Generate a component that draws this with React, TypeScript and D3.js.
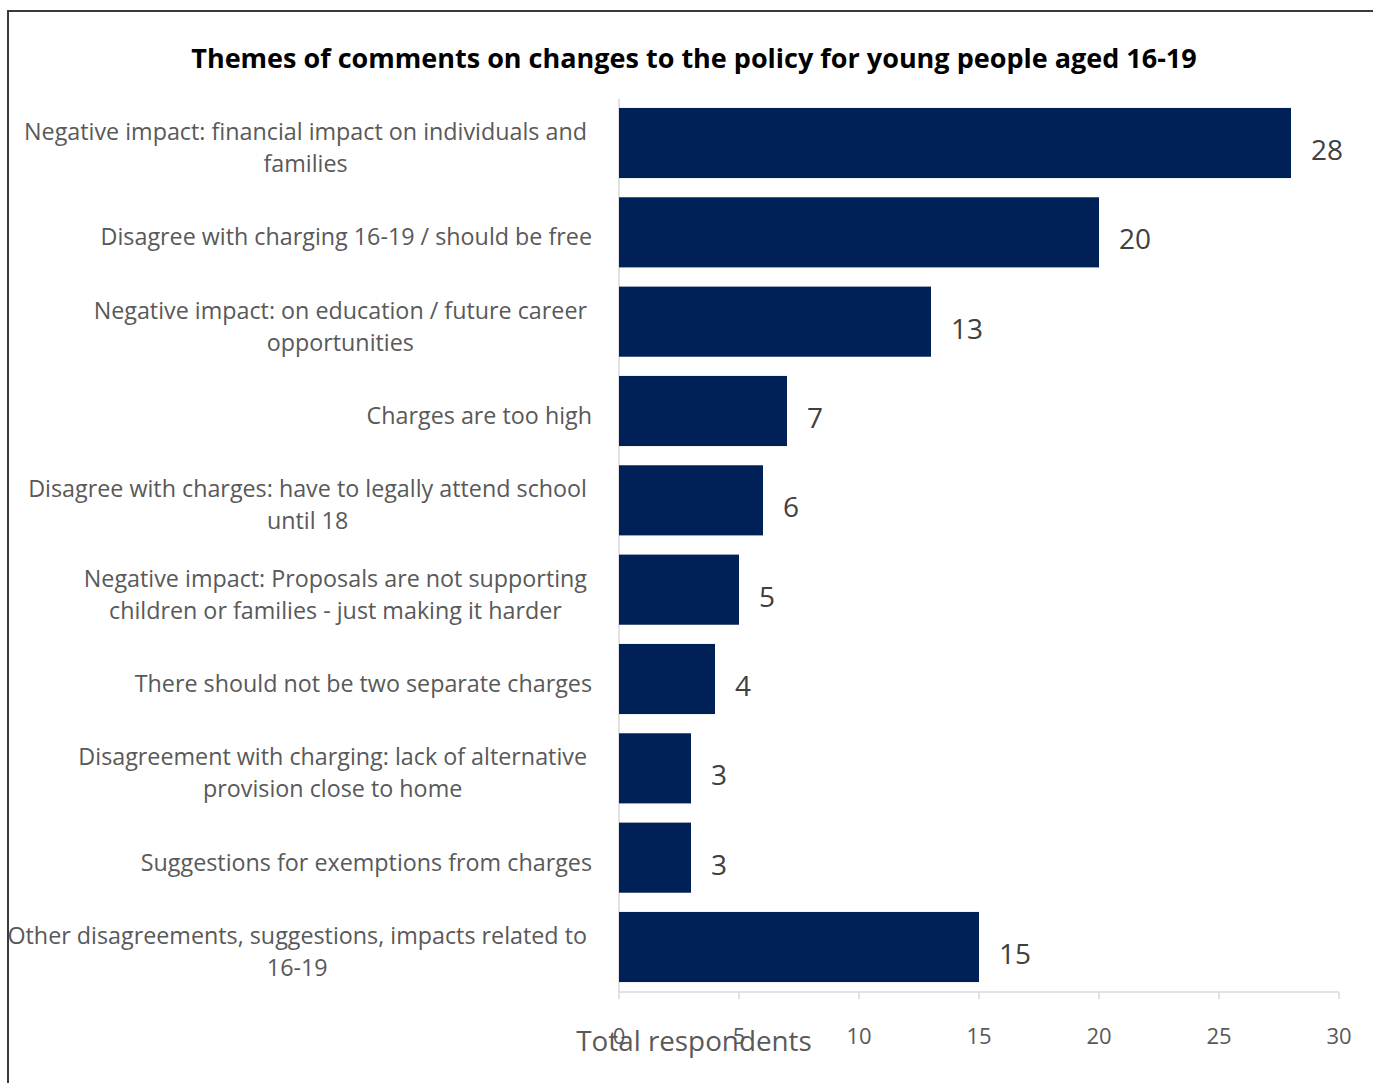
import React, { useEffect } from "react";
import * as d3 from "d3";

const title = "Themes of comments on changes to the policy for young people aged 16-19";
const categories: string[][] = [
  ["Negative impact: financial impact on individuals and", "families"],
  ["Disagree with charging 16-19 / should be free"],
  ["Negative impact: on education / future career", "opportunities"],
  ["Charges are too high"],
  ["Disagree with charges: have to legally attend school", "until 18"],
  ["Negative impact: Proposals are not supporting", "children or families - just making it harder"],
  ["There should not be two separate charges"],
  ["Disagreement with charging: lack of alternative", "provision close to home"],
  ["Suggestions for exemptions from charges"],
  ["Other disagreements, suggestions, impacts related to", "16-19"],
];
const values = [28, 20, 13, 7, 6, 5, 4, 3, 3, 15];
const xTicks = [0, 5, 10, 15, 20, 25, 30];
const xTitle = "Total respondents";

const FONT = "'Open Sans', sans-serif";
const LABEL_SIZE = 23.3;

function measure(text: string, size: number): number {
  const c = document.createElement("canvas").getContext("2d");
  if (!c) return text.length * size * 0.52;
  c.font = `${size}px 'Open Sans'`;
  return c.measureText(text).width;
}

export default function App() {
  useEffect(() => {
    document.body.style.margin = "0";
  }, []);

  const W = 1373, H = 1083;
  const x = d3.scaleLinear().domain([0, 30]).range([619, 1339]);
  const y = d3.scaleBand<number>().domain(d3.range(values.length)).range([99, 991]).paddingInner(0.215).paddingOuter(0.1);
  const labelRight = 592;
  const lineH = 32;

  return (
    <svg width={W} height={H} style={{ display: "block" }} fontFamily={FONT}>
      <rect x={8} y={11} width={1500} height={1200} fill="white" stroke="#3a3a3a" strokeWidth={2} />
      <text x={694} y={57} textAnchor="middle" dominantBaseline="central" fontSize={27} fontWeight="bold" fill="#000">
        {title}
      </text>
      <line x1={619} x2={619} y1={99} y2={992} stroke="#d9d9d9" strokeWidth={1.5} />
      <line x1={619} x2={1339} y1={992} y2={992} stroke="#d9d9d9" strokeWidth={1.5} />
      {xTicks.map((t) => (
        <g key={t}>
          <line x1={x(t)} x2={x(t)} y1={992} y2={999} stroke="#d9d9d9" strokeWidth={1.5} />
          <text x={x(t)} y={1035} textAnchor="middle" dominantBaseline="central" fontSize={22} fill="#595959">
            {t}
          </text>
        </g>
      ))}
      <text x={694} y={1040} textAnchor="middle" dominantBaseline="central" fontSize={27.8} fill="#595959">
        {xTitle}
      </text>
      {values.map((v, i) => {
        const y0 = y(i)!;
        const bw = y.bandwidth();
        const cy = y0 + bw / 2;
        const lines = categories[i];
        const maxW = Math.max(...lines.map((l) => measure(l, LABEL_SIZE)));
        const cx = lines.length > 1 ? labelRight - 5 - maxW / 2 : labelRight;
        return (
          <g key={i}>
            <rect x={x(0)} y={y0} width={x(v) - x(0)} height={bw} fill="#002157" />
            <text x={x(v) + 20} y={cy + 6} dominantBaseline="central" fontSize={28} fill="#404040">
              {v}
            </text>
            {lines.map((l, j) => (
              <text
                key={j}
                x={cx}
                y={cy + 4 + (j - (lines.length - 1) / 2) * lineH}
                textAnchor={lines.length > 1 ? "middle" : "end"}
                dominantBaseline="central"
                fontSize={LABEL_SIZE}
                fill="#595959"
              >
                {l}
              </text>
            ))}
          </g>
        );
      })}
    </svg>
  );
}
